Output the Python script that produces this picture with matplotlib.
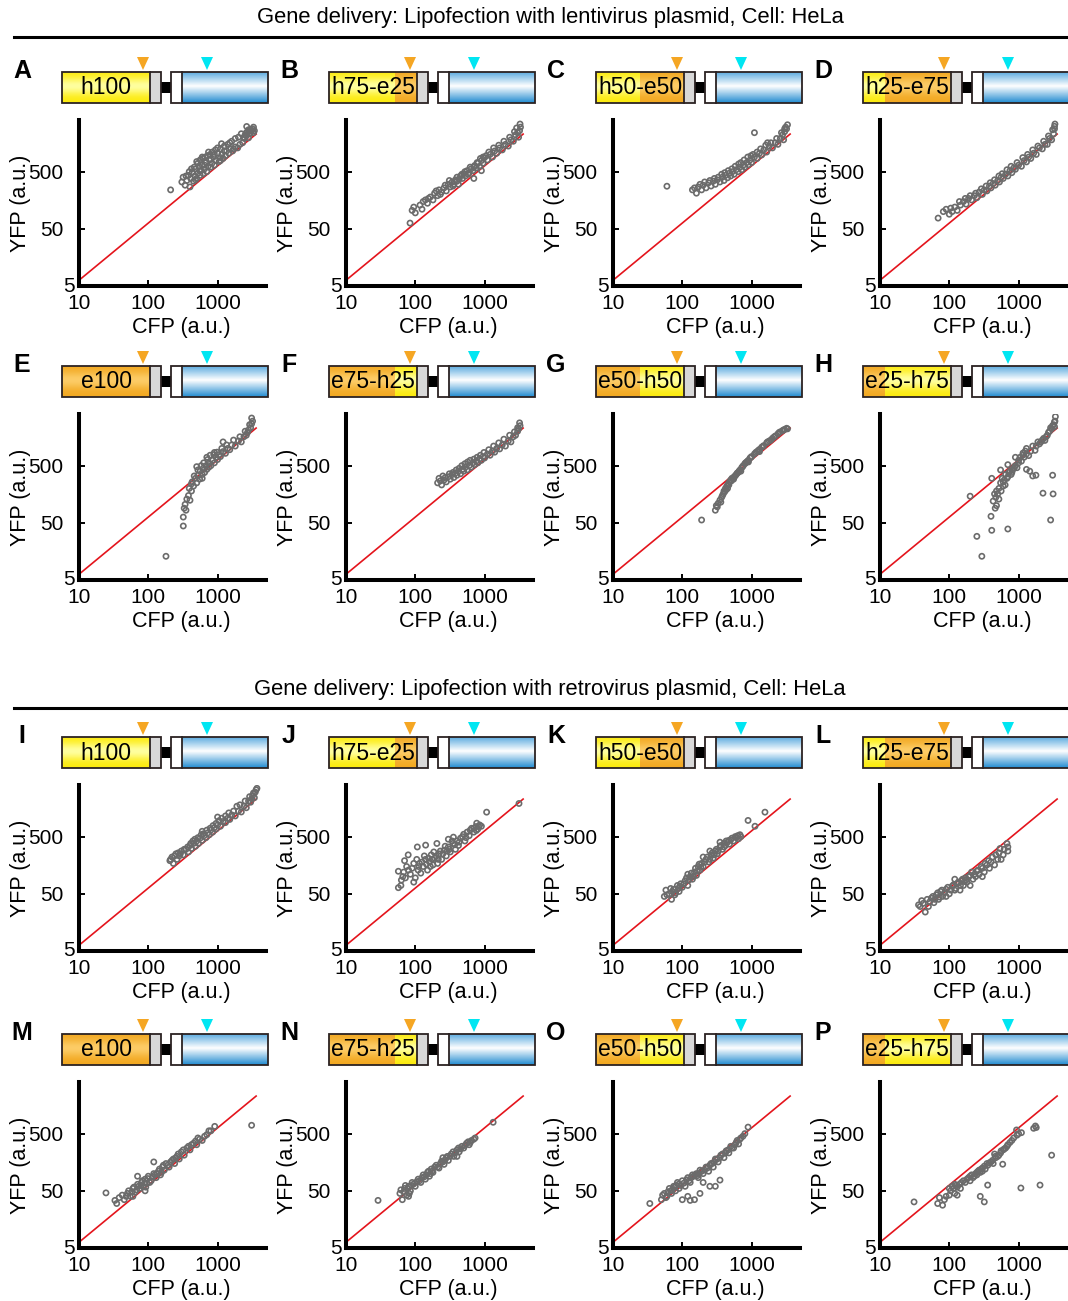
import numpy as np
import matplotlib.pyplot as plt
import matplotlib.transforms as mtransforms
from matplotlib.patches import Rectangle, Polygon

plt.rcParams['font.family'] = ['Liberation Sans', 'DejaVu Sans']

# constructs shown above each panel (h = yellow part, e = orange part)
constructs = ['h100', 'h75-e25', 'h50-e50', 'h25-e75',
              'e100', 'e75-h25', 'e50-h50', 'e25-h75']
lenti_letters = ['A', 'B', 'C', 'D', 'E', 'F', 'G', 'H']
retro_letters = ['I', 'J', 'K', 'L', 'M', 'N', 'O', 'P']
titles = ['Gene delivery: Lipofection with lentivirus plasmid, Cell: HeLa',
          'Gene delivery: Lipofection with retrovirus plasmid, Cell: HeLa']

x_ticks = [10, 100, 1000]
y_ticks = [5, 50, 500]

# reference line (CFP, YFP)
ref_cfp = [10, 3600]
ref_yfp = [6.3, 2270]

# per-cell (CFP, YFP) values, lentivirus plasmid
pts_A = [(210, 240), (305, 330), (318, 400), (340, 290), (360, 350), (380, 430), (400, 270), (410, 380),
         (430, 480), (450, 340), (470, 420), (480, 560), (500, 380), (520, 470), (540, 610), (560, 430),
         (580, 520), (600, 650), (620, 460), (650, 560), (680, 720), (700, 500), (730, 620), (760, 800),
         (800, 600), (830, 700), (870, 900), (900, 650), (950, 780), (1000, 1050), (1050, 750), (1100, 880),
         (1150, 1000), (1200, 850), (1300, 950), (1350, 1150), (1450, 1050), (1550, 1250), (1650, 1150),
         (1800, 1350), (1950, 1300), (2100, 1500), (2300, 1600), (2450, 1900), (2600, 2100), (2700, 2500),
         (2800, 1950), (2900, 2300), (2630, 3080), (3000, 2700), (3100, 2600), (3200, 2800), (3300, 2400),
         (3400, 2600), (2500, 2200), (350, 420), (390, 500), (420, 560), (460, 600), (500, 750), (520, 700),
         (560, 800), (600, 900), (610, 850), (660, 900), (720, 950), (740, 1100), (780, 1000), (840, 1100),
         (930, 1200), (1000, 1300), (1100, 1250), (1140, 1540), (1250, 1400), (1400, 1500), (1600, 1700),
         (1800, 1900), (2000, 2000), (1700, 1250), (1100, 780), (800, 820), (650, 650), (480, 360),
         (550, 520), (900, 1000), (1250, 1150), (1500, 1600), (2200, 2300), (2400, 2000), (3000, 2400),
         (3300, 3000), (2800, 2700), (2600, 2400)]
pts_B = [(84, 63), (90, 105), (100, 95), (117, 130), (125, 110), (140, 160), (150, 140), (165, 180),
         (180, 160), (190, 210), (210, 190), (220, 240), (240, 220), (260, 260), (280, 230), (300, 300),
         (320, 270), (340, 330), (360, 300), (380, 360), (400, 340), (420, 300), (450, 420), (480, 380),
         (500, 460), (530, 420), (560, 520), (600, 480), (640, 560), (680, 520), (700, 380), (720, 640),
         (760, 580), (800, 700), (850, 620), (900, 520), (900, 780), (950, 700), (1000, 880), (1100, 800),
         (1200, 1000), (1300, 900), (1400, 1150), (1500, 1050), (1650, 1300), (1800, 1200), (2000, 1500),
         (2200, 1400), (2400, 1800), (2600, 1700), (2800, 2200), (3000, 2400), (3200, 2600), (3250, 3400),
         (3100, 2000), (95, 120), (130, 150), (155, 170), (200, 230), (230, 200), (270, 290), (310, 350),
         (350, 280), (400, 400), (430, 370), (470, 450), (520, 500), (580, 450), (620, 600), (700, 600),
         (780, 720), (870, 850), (950, 900), (1050, 950), (1150, 1100), (1350, 1300), (1600, 1450),
         (1900, 1700), (2300, 2000), (2700, 2500), (2900, 2900), (3300, 3000)]
pts_C = [(60, 278), (140, 240), (160, 210), (170, 270), (190, 240), (200, 290), (220, 260), (240, 320),
         (260, 280), (280, 340), (300, 300), (320, 360), (350, 330), (380, 400), (400, 350), (420, 430),
         (450, 390), (480, 470), (500, 420), (530, 500), (560, 450), (600, 540), (640, 500), (680, 600),
         (720, 540), (760, 650), (800, 600), (850, 720), (900, 660), (950, 800), (1000, 720), (1100, 900),
         (1100, 2400), (1200, 850), (1300, 1050), (1400, 980), (1500, 1200), (1650, 1100), (1800, 1400),
         (2000, 1300), (2200, 1600), (2400, 1500), (2600, 1900), (2800, 2200), (3000, 2500), (3100, 3000),
         (3200, 2800), (2900, 1800), (1700, 1600), (150, 260), (180, 300), (210, 330), (250, 350),
         (290, 380), (330, 400), (370, 450), (410, 480), (460, 520), (520, 560), (580, 620), (650, 680),
         (700, 720), (780, 800), (880, 900), (980, 950), (1050, 1000), (1200, 1100), (1350, 1250),
         (1600, 1450), (1900, 1600), (2300, 1900), (2700, 2400), (3000, 2800), (3300, 3300)]
pts_D = [(69, 77), (82, 100), (100, 90), (110, 100), (120, 120), (130, 105), (145, 130), (160, 150),
         (175, 135), (190, 170), (210, 160), (230, 190), (250, 175), (270, 220), (300, 200), (320, 240),
         (350, 230), (380, 280), (400, 260), (430, 310), (460, 290), (500, 350), (530, 330), (560, 400),
         (600, 380), (650, 450), (700, 420), (750, 520), (800, 480), (850, 580), (900, 550), (1000, 650),
         (1100, 620), (1200, 780), (1300, 740), (1400, 900), (1500, 850), (1650, 1050), (1800, 1000),
         (2000, 1300), (2200, 1250), (2400, 1500), (2600, 1500), (2800, 1900), (3000, 1800), (3200, 2300),
         (3350, 3400), (3300, 2800), (90, 110), (105, 115), (140, 150), (170, 170), (200, 190), (240, 210),
         (290, 250), (340, 280), (390, 320), (450, 360), (520, 420), (580, 460), (680, 540), (780, 620),
         (950, 720), (1150, 880), (1350, 1000), (1600, 1200), (1900, 1400), (2300, 1700), (2700, 2100),
         (3100, 2700), (3300, 3100)]
pts_E = [(180, 13), (320, 44), (320, 63), (350, 83), (340, 105), (400, 124), (380, 150), (420, 180),
         (450, 220), (430, 260), (480, 300), (500, 250), (520, 340), (550, 290), (560, 400), (600, 350),
         (620, 450), (650, 380), (680, 500), (700, 430), (750, 560), (800, 500), (850, 620), (900, 560),
         (950, 700), (1000, 640), (1050, 780), (1100, 720), (1200, 880), (1300, 820), (1400, 1000),
         (1500, 950), (1600, 1150), (1800, 1100), (2000, 1350), (2200, 1300), (2400, 1600), (2600, 1700),
         (2800, 2100), (3000, 2300), (3100, 2700), (3100, 3400), (500, 480), (700, 700), (900, 850),
         (1200, 1300), (2700, 1900), (330, 90), (360, 130), (390, 200), (420, 240), (460, 330), (520, 420),
         (580, 500), (630, 560), (720, 640), (780, 760), (880, 780), (980, 860), (1150, 1000), (1350, 1150),
         (1700, 1400), (2100, 1600), (2500, 2000), (2900, 2600), (3200, 3000), (600, 300), (750, 470)]
pts_F = [(210, 250), (220, 300), (240, 230), (260, 280), (280, 260), (300, 320), (320, 290), (340, 350),
         (360, 310), (380, 370), (400, 340), (420, 400), (450, 360), (480, 430), (500, 400), (530, 470),
         (560, 420), (600, 500), (640, 470), (680, 560), (720, 520), (760, 600), (800, 560), (850, 660),
         (900, 620), (950, 720), (1000, 680), (1100, 800), (1200, 760), (1300, 900), (1400, 860),
         (1500, 1000), (1650, 980), (1800, 1150), (2000, 1100), (2200, 1350), (2400, 1300), (2600, 1600),
         (2800, 1700), (3000, 2000), (3250, 2500), (3100, 2200), (230, 270), (250, 330), (270, 310),
         (310, 360), (350, 380), (390, 420), (430, 450), (470, 500), (520, 540), (570, 580), (620, 620),
         (700, 650), (780, 700), (870, 760), (980, 850), (1150, 950), (1350, 1100), (1600, 1250),
         (1900, 1450), (2300, 1700), (2700, 1950), (3000, 2300), (3200, 2800)]
pts_G = [(190, 56), (300, 83), (310, 100), (330, 110), (350, 125), (370, 140), (390, 160), (400, 180),
         (420, 200), (440, 220), (460, 240), (480, 260), (500, 280), (520, 300), (560, 320), (600, 350),
         (640, 380), (680, 420), (720, 460), (760, 500), (800, 540), (850, 580), (900, 620), (950, 680),
         (1000, 720), (1100, 800), (1200, 880), (1300, 960), (1400, 1050), (1500, 1120), (1650, 1250),
         (1800, 1350), (2000, 1500), (2200, 1650), (2400, 1800), (2600, 1950), (2800, 2050), (3000, 2150),
         (3300, 2200), (450, 200), (550, 290), (700, 400), (900, 580), (1300, 880), (320, 95), (360, 115),
         (380, 150), (410, 175), (430, 190), (470, 230), (510, 270), (540, 300), (580, 330), (620, 370),
         (660, 400), (740, 480), (820, 560), (880, 600), (980, 700), (1150, 850), (1250, 920), (1450, 1080),
         (1700, 1300), (1900, 1400), (2100, 1580), (2500, 1900), (2900, 2100), (3200, 2250)]
pts_H = [(200, 146), (250, 29), (295, 13), (410, 37), (700, 39), (400, 65), (460, 90), (480, 100),
         (470, 140), (500, 160), (480, 180), (410, 300), (520, 200), (550, 250), (600, 220), (580, 300),
         (620, 280), (650, 350), (700, 320), (750, 400), (800, 380), (850, 450), (900, 500), (950, 460),
         (1000, 560), (1100, 600), (1160, 830), (1200, 700), (1300, 800), (1400, 750), (1600, 330),
         (1780, 340), (1730, 926), (1500, 900), (1800, 1100), (2000, 1200), (2200, 1400), (2250, 165),
         (2400, 1380), (2600, 1700), (2900, 56), (3100, 340), (3150, 160), (2800, 2000), (3000, 2200),
         (3200, 2600), (3350, 3000), (3400, 3600), (3300, 2400), (1300, 1000), (900, 700), (700, 520),
         (550, 420), (1300, 430), (1450, 400), (430, 120), (450, 160), (520, 130), (560, 180), (600, 260),
         (640, 230), (680, 300), (720, 380), (780, 350), (820, 420), (880, 480), (1000, 620), (1050, 700),
         (1150, 760), (1250, 900), (1600, 1100), (1900, 1300), (2100, 1300), (2300, 1500), (2500, 1600),
         (2700, 1900), (2900, 2300), (3100, 2500), (3300, 2900)]

# per-cell (CFP, YFP) values, retrovirus plasmid
pts_I = [(205, 190), (220, 220), (230, 170), (250, 250), (260, 200), (280, 230), (300, 280), (320, 240),
         (350, 300), (380, 270), (400, 350), (420, 310), (450, 380), (480, 340), (500, 420), (530, 380),
         (560, 470), (600, 430), (640, 520), (680, 480), (720, 580), (760, 540), (800, 650), (850, 600),
         (900, 720), (950, 680), (1000, 800), (1100, 760), (1200, 920), (1300, 880), (1400, 1050),
         (1500, 1000), (1600, 1200), (1800, 1150), (2000, 1400), (2200, 1350), (2400, 1700), (2600, 1600),
         (2800, 2100), (3000, 2000), (3200, 2600), (3400, 2400), (3600, 3300), (3700, 3500), (3300, 2900),
         (600, 620), (1000, 1100), (210, 200), (240, 230), (270, 260), (290, 250), (330, 300), (370, 330),
         (410, 380), (440, 420), (470, 450), (520, 480), (580, 540), (620, 560), (700, 650), (780, 700),
         (860, 780), (950, 850), (1050, 950), (1150, 1050), (1300, 1150), (1450, 1300), (1700, 1400),
         (1900, 1700), (2100, 1800), (2500, 2100), (2900, 2500), (3100, 2300), (3500, 3000)]
pts_J = [(57, 64), (57, 124), (63, 87), (66, 100), (70, 190), (79, 240), (75, 150), (85, 110), (95, 80),
         (100, 95), (107, 330), (110, 130), (115, 170), (120, 115), (130, 150), (141, 355), (140, 200),
         (150, 130), (160, 180), (170, 240), (180, 160), (190, 210), (205, 380), (210, 170), (220, 250),
         (240, 200), (260, 290), (280, 230), (300, 330), (320, 270), (355, 490), (350, 380), (380, 300),
         (400, 420), (420, 350), (450, 470), (500, 550), (520, 420), (560, 600), (600, 520), (650, 700),
         (700, 600), (750, 750), (800, 680), (850, 800), (770, 860), (1070, 1340), (3140, 1900), (900, 760),
         (300, 450), (62, 70), (68, 120), (72, 95), (80, 130), (90, 140), (95, 170), (105, 200), (112, 150),
         (125, 180), (135, 230), (145, 165), (155, 210), (165, 150), (175, 200), (185, 270), (200, 230),
         (215, 200), (230, 280), (250, 250), (270, 340), (290, 280), (310, 300), (340, 420), (370, 360),
         (430, 400), (480, 500), (540, 480), (620, 650), (700, 700), (760, 640), (820, 750)]
pts_K = [(58, 58), (55, 45), (65, 50), (70, 40), (75, 60), (80, 52), (85, 70), (90, 55), (95, 75),
         (100, 65), (110, 85), (120, 70), (130, 100), (140, 90), (150, 120), (160, 105), (170, 150),
         (180, 130), (190, 170), (200, 150), (220, 200), (240, 180), (260, 240), (280, 210), (300, 280),
         (320, 250), (350, 330), (380, 300), (400, 380), (420, 350), (450, 400), (480, 370), (500, 440),
         (550, 420), (600, 480), (650, 460), (700, 500), (890, 960), (1560, 1340), (1120, 760), (250, 280),
         (350, 400), (200, 220), (120, 110), (60, 48), (68, 62), (72, 55), (78, 48), (88, 62), (92, 68),
         (105, 75), (115, 95), (125, 88), (135, 115), (145, 100), (155, 140), (165, 125), (175, 165),
         (185, 145), (210, 180), (230, 220), (250, 200), (270, 260), (290, 240), (310, 300), (330, 280),
         (360, 350), (400, 330), (430, 420), (470, 430), (520, 470), (580, 500), (630, 520), (680, 540)]
pts_L = [(36, 32), (45, 24), (40, 38), (50, 30), (55, 42), (60, 35), (65, 48), (70, 40), (75, 55),
         (80, 45), (90, 60), (100, 50), (110, 68), (120, 58), (130, 75), (143, 58), (150, 85), (160, 70),
         (170, 95), (180, 80), (200, 105), (220, 90), (240, 100), (250, 125), (270, 110), (300, 140),
         (320, 120), (350, 160), (380, 140), (400, 180), (450, 160), (500, 200), (560, 200), (540, 310),
         (600, 240), (700, 280), (700, 330), (200, 70), (120, 90), (90, 45), (300, 100), (38, 30), (42, 34),
         (48, 40), (52, 36), (58, 45), (62, 40), (68, 52), (72, 44), (78, 58), (85, 52), (95, 65),
         (105, 58), (115, 72), (125, 62), (135, 80), (145, 70), (155, 90), (165, 82), (175, 88), (190, 100),
         (210, 120), (230, 110), (260, 130), (290, 150), (330, 170), (370, 190), (420, 220), (470, 240),
         (520, 260), (620, 300), (680, 380)]
pts_M = [(24.5, 46), (33, 34), (35, 30), (45, 35), (50, 45), (55, 40), (60, 55), (65, 48), (70, 65),
         (75, 55), (80, 70), (85, 60), (90, 80), (95, 68), (100, 90), (110, 75), (120, 100), (130, 85),
         (140, 110), (150, 95), (160, 130), (170, 115), (180, 150), (200, 130), (220, 170), (240, 150),
         (260, 200), (280, 180), (300, 240), (330, 210), (360, 280), (400, 260), (450, 340), (500, 320),
         (550, 400), (600, 380), (700, 480), (800, 560), (910, 670), (3100, 700), (120, 160), (70, 90),
         (60, 40), (90, 50), (38, 38), (42, 42), (48, 40), (52, 50), (58, 48), (62, 58), (68, 52), (72, 60),
         (78, 62), (82, 75), (88, 68), (92, 58), (98, 82), (105, 70), (115, 88), (125, 95), (135, 100),
         (145, 120), (155, 105), (165, 140), (190, 140), (210, 160), (230, 180), (250, 190), (270, 220),
         (320, 260), (380, 300), (420, 320), (480, 370), (520, 420), (650, 450), (750, 560)]
pts_N = [(29, 34), (60, 45), (65, 35), (70, 55), (75, 42), (80, 60), (85, 50), (90, 70), (100, 60),
         (110, 80), (120, 70), (130, 95), (140, 80), (150, 105), (160, 90), (170, 120), (180, 105),
         (200, 140), (220, 125), (240, 165), (260, 145), (280, 190), (300, 170), (330, 220), (360, 200),
         (400, 260), (430, 240), (470, 300), (500, 280), (550, 340), (600, 320), (650, 380), (730, 420),
         (1330, 790), (400, 200), (250, 190), (80, 40), (62, 52), (68, 48), (72, 62), (78, 55), (82, 45),
         (88, 62), (95, 66), (105, 72), (115, 75), (125, 85), (135, 88), (145, 95), (155, 110), (165, 100),
         (175, 110), (190, 130), (210, 130), (230, 150), (250, 160), (270, 175), (290, 200), (320, 200),
         (350, 240), (380, 230), (420, 280), (450, 270), (520, 310), (580, 360), (620, 350), (700, 400)]
pts_O = [(34, 30), (50, 35), (55, 45), (60, 40), (65, 55), (70, 45), (75, 60), (80, 50), (85, 70),
         (90, 55), (100, 75), (110, 60), (120, 85), (130, 70), (140, 95), (150, 35), (160, 100), (170, 85),
         (180, 115), (200, 100), (220, 130), (240, 110), (260, 150), (280, 130), (300, 180), (330, 160),
         (360, 210), (400, 190), (430, 250), (470, 230), (500, 300), (550, 280), (600, 350), (650, 330),
         (700, 420), (800, 500), (890, 650), (250, 60), (180, 45), (120, 40), (52, 42), (58, 38), (62, 48),
         (68, 50), (72, 52), (78, 58), (82, 62), (88, 65), (95, 62), (105, 68), (115, 78), (125, 75),
         (135, 85), (145, 90), (155, 95), (165, 92), (175, 100), (190, 110), (210, 115), (230, 125),
         (250, 140), (270, 150), (290, 160), (320, 180), (350, 190), (380, 220), (420, 230), (460, 260),
         (520, 280), (580, 320), (620, 380), (680, 400), (750, 450), (100, 35), (130, 34), (350, 77),
         (300, 60), (200, 70)]
pts_P = [(31, 32), (68, 30), (72, 38), (80, 28), (85, 35), (90, 40), (100, 42), (120, 45), (130, 42),
         (280, 40), (320, 32), (358, 63), (1080, 56), (2040, 63), (3000, 210), (1650, 620), (1750, 680),
         (1800, 640), (100, 55), (110, 60), (120, 65), (130, 58), (150, 70), (160, 75), (180, 80),
         (200, 90), (220, 85), (240, 100), (260, 110), (280, 105), (300, 125), (330, 120), (360, 140),
         (400, 160), (430, 150), (470, 190), (500, 200), (550, 230), (590, 146), (600, 260), (650, 280),
         (700, 320), (800, 380), (935, 580), (1000, 500), (250, 95), (450, 220), (105, 50), (115, 55),
         (125, 62), (140, 65), (145, 55), (170, 70), (190, 85), (210, 95), (230, 90), (250, 105), (270, 115),
         (290, 120), (320, 135), (350, 150), (380, 155), (420, 170), (460, 200), (520, 210), (560, 250),
         (620, 270), (680, 300), (750, 350), (850, 420), (950, 470), (1100, 520), (200, 75), (300, 110)]

lenti_pts = [pts_A, pts_B, pts_C, pts_D, pts_E, pts_F, pts_G, pts_H]
retro_pts = [pts_I, pts_J, pts_K, pts_L, pts_M, pts_N, pts_O, pts_P]

# ---- layout (pixels) ----
W, H = 1068, 1301
col_left = [79, 346, 613, 880]
row_bottom = [286, 580, 951, 1248]
AX_W, AX_H = 187, 166
title_y = [17, 689]
rule_y = [37, 708]

YELLOW = ((0.99, 0.92, 0.05), (1.0, 1.0, 0.62))
ORANGE = ((0.95, 0.66, 0.13), (0.99, 0.80, 0.40))
OUTLINE = '#2b2222'

fig = plt.figure(figsize=(W / 100, H / 100), dpi=100)
ov = fig.add_axes([0, 0, 1, 1], zorder=0)
ov.set_xlim(0, W)
ov.set_ylim(H, 0)
ov.axis('off')


def gradient(edge, mid, n=40):
    t = np.linspace(0, 1, n)[:, None]
    w = np.exp(-((t - 0.45) / 0.28) ** 2)
    img = np.array(edge)[None, :] * (1 - w) + np.array(mid)[None, :] * w
    return img[:, None, :]


def blue_gradient(n=40):
    t = np.linspace(0, 1, n)
    top = np.array([0.38, 0.68, 0.88])
    bot = np.array([0.14, 0.55, 0.82])
    white = np.ones(3)
    img = np.where(t[:, None] < 0.45,
                   top + (white - top) * (t[:, None] / 0.45),
                   white + (bot - white) * ((t[:, None] - 0.45) / 0.55))
    return img[:, None, :]


def draw_header(ox, ybot, letter, name):
    top, bh = ybot - 214, 31
    # panel letter
    ov.text(ox + 22, ybot - 215, letter, fontsize=18, fontweight='bold',
            ha='center', va='center')
    # chimera segments, proportional to their percentage
    x = ox + 62
    span = 88
    for seg in name.split('-'):
        frac = int(seg[1:]) / 100
        edge, mid = YELLOW if seg[0] == 'h' else ORANGE
        ov.imshow(gradient(edge, mid), extent=(x, x + span * frac, top + bh, top),
                  aspect='auto', interpolation='bilinear', zorder=1)
        x += span * frac
    ov.add_patch(Rectangle((ox + 150, top), 11, bh, facecolor='#d8d8d8', edgecolor='none', zorder=1))
    ov.add_patch(Rectangle((ox + 62, top), 99, bh, facecolor='none', edgecolor=OUTLINE, lw=1.3, zorder=3))
    ov.plot([ox + 150, ox + 150], [top, top + bh], color=OUTLINE, lw=1.3, zorder=3)
    ov.text(ox + 106, top + bh / 2 + 0.5, name, fontsize=16.5, ha='center', va='center', zorder=4)
    # linker
    ov.add_patch(Rectangle((ox + 161, top + 10), 10, 11, facecolor='black', edgecolor='none', zorder=2))
    # second domain
    ov.imshow(blue_gradient(), extent=(ox + 182, ox + 268, top + bh, top),
              aspect='auto', interpolation='bilinear', zorder=1)
    ov.add_patch(Rectangle((ox + 171, top), 11, bh, facecolor='white', edgecolor='none', zorder=1))
    ov.add_patch(Rectangle((ox + 171, top), 97, bh, facecolor='none', edgecolor=OUTLINE, lw=1.3, zorder=3))
    ov.plot([ox + 182, ox + 182], [top, top + bh], color=OUTLINE, lw=1.3, zorder=3)
    # site markers
    for cx, col in ((ox + 143, '#f5a623'), (ox + 207, '#00e6f2')):
        ov.add_patch(Polygon([(cx - 6, ybot - 229), (cx + 6, ybot - 229), (cx, ybot - 216)],
                             closed=True, facecolor=col, edgecolor='none', zorder=2))


def draw_panel(c, r, letter, name, pts):
    left, bottom = col_left[c], row_bottom[r]
    draw_header(left - 79, bottom, letter, name)
    ax = fig.add_axes([left / W, 1 - bottom / H, AX_W / W, AX_H / H], zorder=2)
    ax.patch.set_alpha(0)
    ax.set_xscale('log')
    ax.set_yscale('log')
    ax.set_xlim(10, 5000)
    ax.set_ylim(5, 4000)
    ax.plot(ref_cfp, ref_yfp, color='#e4141c', lw=1.2, zorder=2)
    arr = np.array(pts, dtype=float)
    ax.scatter(arr[:, 0], arr[:, 1], s=14, facecolors='none', edgecolors='#6b6b6b',
               linewidths=1.2, zorder=3)
    ax.set_xticks(x_ticks, labels=[str(v) for v in x_ticks])
    ax.set_yticks(y_ticks, labels=[''] + [str(v) for v in y_ticks[1:]])
    ax.minorticks_off()
    ax.tick_params(direction='in', length=4.5, width=1.4, labelsize=15, color='black')
    ax.tick_params(axis='x', pad=6)
    ax.tick_params(axis='y', pad=11)
    trans = mtransforms.blended_transform_factory(ax.transAxes, ax.transData)
    ax.text(-0.022, y_ticks[0], str(y_ticks[0]), transform=trans, ha='right', va='center', fontsize=15)
    for s in ('top', 'right'):
        ax.spines[s].set_visible(False)
    for s in ('left', 'bottom'):
        ax.spines[s].set_linewidth(2.9)
    ax.set_xlabel('CFP (a.u.)', fontsize=15.5, va='center')
    ax.xaxis.set_label_coords(0.545, -0.253)
    ax.set_ylabel('YFP (a.u.)', fontsize=15.5, va='center', ha='center')
    ax.yaxis.set_label_coords(-0.315, 0.5)


for g, (letters, group) in enumerate(((lenti_letters, lenti_pts), (retro_letters, retro_pts))):
    ov.text(550, title_y[g], titles[g], fontsize=15.8, ha='center', va='center')
    ov.plot([14, W], [rule_y[g], rule_y[g]], color='black', lw=2.2)
    for i in range(8):
        draw_panel(i % 4, 2 * g + i // 4, letters[i], constructs[i], group[i])

ov.set_xlim(0, W)
ov.set_ylim(H, 0)
fig.savefig('out.png', dpi=100)
